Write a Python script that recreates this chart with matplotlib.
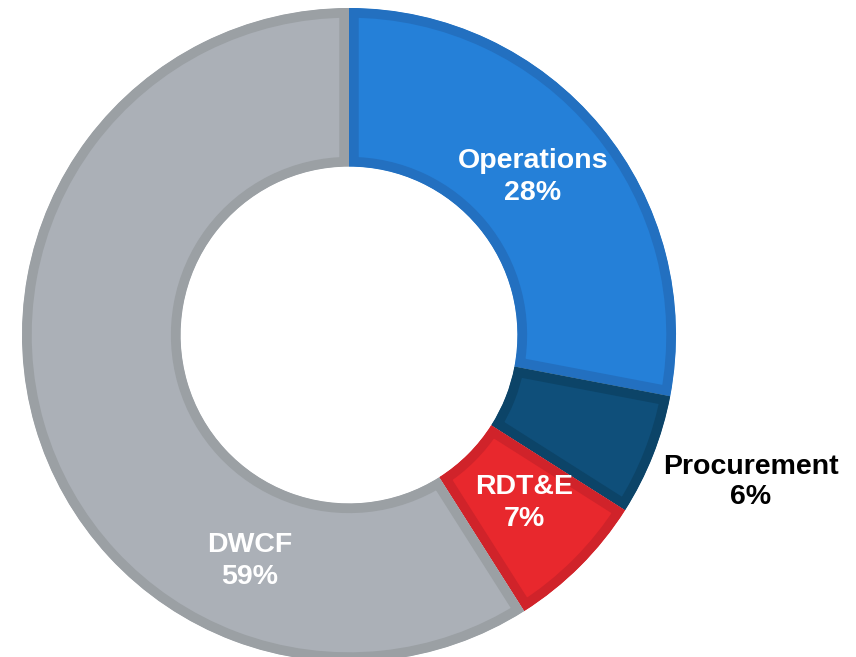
import matplotlib
matplotlib.use("Agg")
import matplotlib.pyplot as plt
from matplotlib.patches import Wedge

labels = ["Operations", "Procurement", "RDT&E", "DWCF"]
shares = [28, 6, 7, 59]
face_colors = ["#2580d8", "#0f4f7a", "#e8282d", "#abb0b7"]
edge_colors = ["#2370c0", "#0c4468", "#d0232a", "#9ba0a4"]
label_colors = ["white", "black", "white", "white"]
# label centres in pixel coords (x, y from top)
label_pos = [(533, 177), (751, 482), (524, 503), (250, 561)]

W, H = 856, 657
fig = plt.figure(figsize=(W / 100, H / 100), dpi=100)
ax = fig.add_axes([0, 0, 1, 1])

cx, cy, r = 349, H - 335, 327
ring = r * 0.485
wedges, _ = ax.pie(shares, colors=face_colors, startangle=90, counterclock=False,
                   radius=r, center=(cx, cy), frame=True,
                   wedgeprops=dict(width=ring, linewidth=14))
ax.set_xlim(0, W)
ax.set_ylim(0, H)
ax.set_aspect("equal")
ax.axis("off")

# darker border drawn only on the inside of each wedge
for w, ec in zip(wedges, edge_colors):
    w.set_edgecolor(ec)
    clip = Wedge(w.center, w.r, w.theta1, w.theta2, width=w.width,
                 transform=ax.transData)
    w.set_clip_on(True)
    w.set_clip_path(clip)

for lab, s, c, (x, y) in zip(labels, shares, label_colors, label_pos):
    ax.text(x, H - y, f"{lab}\n{s}%", ha="center", va="center", color=c,
            fontsize=20.5, fontweight="bold", linespacing=1.25,
            family=['Liberation Sans', 'DejaVu Sans'])

fig.savefig("out.png", dpi=100)
